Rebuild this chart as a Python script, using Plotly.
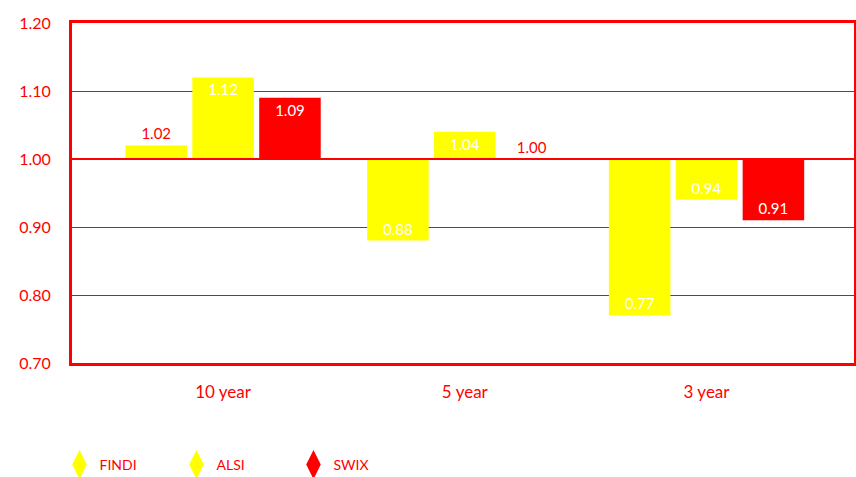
import plotly.graph_objects as go

# Relative performance versus the 1.00 benchmark
periods = ["10 year", "5 year", "3 year"]
findi = [1.02, 0.88, 0.77]
alsi = [1.12, 1.04, 0.94]
swix = [1.09, 1.00, 0.91]

series = [("FINDI", findi, "#FFFF00"), ("ALSI", alsi, "#FFFF00"), ("SWIX", swix, "#FF0000")]
RED = "#FF0000"
BASE = 1.0
FONT = "Lato, Open Sans, sans-serif"

fig = go.Figure()

for name, vals, color in series:
    deltas = [round(v - BASE, 4) for v in vals]
    # small bars get their label outside in red, the rest inside in white
    inside = [abs(d) >= 0.035 for d in deltas]
    fig.add_trace(go.Bar(
        name=name,
        x=periods,
        y=deltas,
        base=BASE,
        marker=dict(color=color, line=dict(width=0)),
        text=[f"{v:.2f}" for v in vals],
        textposition=["inside" if ok else "outside" for ok in inside],
        insidetextanchor="end",
        textangle=0,
        textfont=dict(family=FONT, size=15,
                      color=["#FFFFFF" if ok else RED for ok in inside]),
        cliponaxis=False,
        showlegend=False,
        hoverinfo="skip",
    ))

# diamond legend entries
for name, vals, color in series:
    fig.add_trace(go.Scatter(
        name=name, x=[None], y=[None], mode="markers",
        marker=dict(symbol="diamond-tall", size=16, color=color,
                    line=dict(color=color, width=3)),
    ))

# benchmark line at 1.00
fig.add_shape(type="line", xref="paper", yref="y", x0=0, x1=1, y0=BASE, y1=BASE,
              line=dict(color=RED, width=2), layer="above")

fig.update_layout(
    width=856, height=477,
    margin=dict(l=72, r=2, t=23, b=114, autoexpand=False),
    paper_bgcolor="white", plot_bgcolor="white",
    barmode="group", bargap=0.17, bargroupgap=0.08,
    uniformtext=dict(minsize=15, mode="show"),
    font=dict(family=FONT, color=RED),
    legend=dict(
        orientation="h", x=-0.016, xanchor="left", y=-0.30, yanchor="middle",
        font=dict(family=FONT, size=14, color=RED),
        entrywidth=72, entrywidthmode="pixels",
        itemclick=False, itemdoubleclick=False,
    ),
    showlegend=True,
)

fig.update_xaxes(
    type="category", range=[-0.625, 2.61],
    showline=True, mirror=True, linecolor=RED, linewidth=3,
    showgrid=False, ticks="", ticklabelstandoff=12,
    tickfont=dict(family=FONT, size=17, color=RED),
)
fig.update_yaxes(
    range=[0.70, 1.20], tickmode="array",
    tickvals=[0.70, 0.80, 0.90, 1.00, 1.10, 1.20],
    ticktext=["0.70", "0.80", "0.90", "1.00", "1.10", "1.20"],
    showline=True, mirror=True, linecolor=RED, linewidth=3,
    showgrid=True, gridcolor=RED, gridwidth=1.4, zeroline=False,
    ticks="", ticklabelstandoff=15,
    tickfont=dict(family=FONT, size=16, color=RED),
)

fig.write_html("out.html")
